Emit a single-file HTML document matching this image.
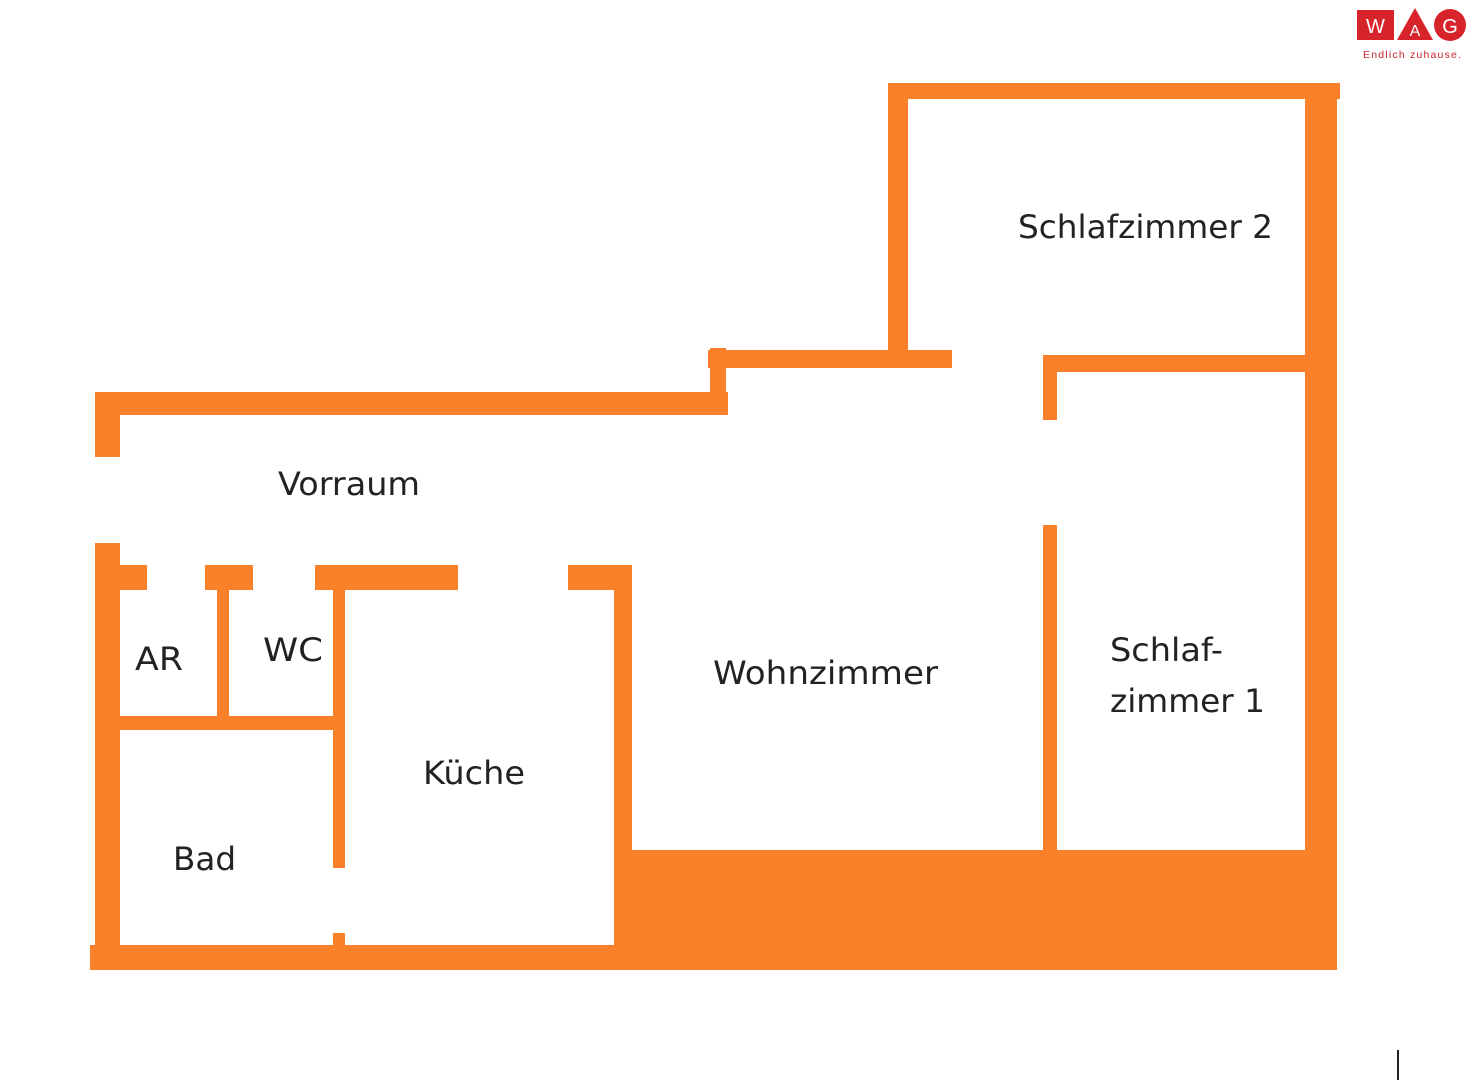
<!DOCTYPE html>
<html><head><meta charset="utf-8"><style>html,body{margin:0;padding:0;background:#fff;width:1472px;height:1080px;overflow:hidden}</style></head>
<body>
<svg width="1472" height="1080" viewBox="0 0 1472 1080" xmlns="http://www.w3.org/2000/svg">
<g fill="#FA8029">
<rect x="888" y="83" width="452" height="16"/>
<rect x="888" y="83" width="20" height="285"/>
<rect x="1305" y="83" width="32" height="887"/>
<rect x="708" y="350" width="244" height="18"/>
<rect x="1043" y="355" width="262" height="17"/>
<rect x="1043" y="372" width="14" height="48"/>
<rect x="710" y="348" width="16" height="67"/>
<rect x="95" y="392" width="633" height="23"/>
<rect x="95" y="392" width="25" height="65"/>
<rect x="95" y="543" width="25" height="427"/>
<rect x="95" y="565" width="52" height="25"/>
<rect x="205" y="565" width="48" height="25"/>
<rect x="315" y="565" width="143" height="25"/>
<rect x="568" y="565" width="64" height="25"/>
<rect x="217" y="590" width="12" height="128"/>
<rect x="333" y="590" width="12" height="278"/>
<rect x="333" y="933" width="12" height="15"/>
<rect x="120" y="716" width="225" height="14"/>
<rect x="614" y="565" width="18" height="385"/>
<rect x="90" y="945" width="1247" height="25"/>
<rect x="625" y="850" width="712" height="120"/>
<rect x="1043" y="525" width="14" height="325"/>
</g>
<g font-family="'DejaVu Sans','Liberation Sans',sans-serif" font-size="32" fill="#222" lengthAdjust="spacingAndGlyphs">
<text x="1018" y="238" textLength="255" lengthAdjust="spacingAndGlyphs">Schlafzimmer 2</text>
<text x="278" y="495" textLength="142" lengthAdjust="spacingAndGlyphs">Vorraum</text>
<text x="135" y="670" textLength="48" lengthAdjust="spacingAndGlyphs">AR</text>
<text x="263" y="661" textLength="60" lengthAdjust="spacingAndGlyphs">WC</text>
<text x="423" y="784" textLength="102" lengthAdjust="spacingAndGlyphs">Küche</text>
<text x="173" y="870" textLength="63" lengthAdjust="spacingAndGlyphs">Bad</text>
<text x="713" y="684" textLength="225" lengthAdjust="spacingAndGlyphs">Wohnzimmer</text>
<text x="1110" y="661" textLength="113" lengthAdjust="spacingAndGlyphs">Schlaf-</text>
<text x="1110" y="712" textLength="155" lengthAdjust="spacingAndGlyphs">zimmer 1</text>
</g>
<rect x="1357" y="10" width="37" height="30" fill="#D7242B"/>
<text x="1375.5" y="33" font-family="'Liberation Sans',sans-serif" font-size="20" fill="#fff" text-anchor="middle">W</text>
<polygon points="1415,8 1397,40 1433,40" fill="#D7242B"/>
<text x="1415" y="36" font-family="'Liberation Sans',sans-serif" font-size="16" fill="#fff" text-anchor="middle">A</text>
<circle cx="1450" cy="25" r="16" fill="#D7242B"/>
<text x="1450" y="33" font-family="'Liberation Sans',sans-serif" font-size="20" fill="#fff" text-anchor="middle">G</text>
<text x="1363" y="58" font-family="'Liberation Sans',sans-serif" font-size="10.5" fill="#C8232A" textLength="98">Endlich zuhause.</text>
<rect x="1397" y="1050" width="2" height="30" fill="#222"/>
</svg>
</body></html>
